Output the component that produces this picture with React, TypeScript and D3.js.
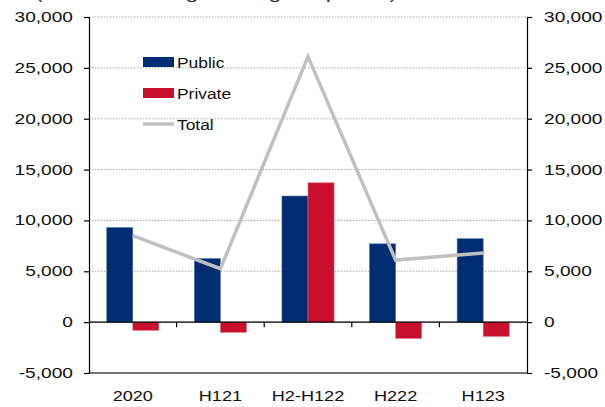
import React, { useEffect, useRef } from 'react';
import * as d3 from 'd3';

const categories = ['2020', 'H121', 'H2-H122', 'H222', 'H123'];
const publicValues = [9300, 6250, 12400, 7700, 8200];
const privateValues = [-800, -1000, 13700, -1600, -1400];
const totalValues = [8500, 5250, 26100, 6100, 6800];
const yTicks = [-5000, 0, 5000, 10000, 15000, 20000, 25000, 30000];
const title = '(absolute change during the period)';

const W = 605;
const H = 407;
const margin = { top: 17, right: 78, bottom: 34, left: 89 };
const font = '"Liberation Sans", Arial, sans-serif';

// the original is a bit stretched sideways, so texts get a horizontal scale
function stretchedText(sel: any, x: number, y: number, txt: string, sx: number, size: number, anchor: string) {
  return sel.append('text')
    .attr('transform', `translate(${x},${y}) scale(${sx},1)`)
    .attr('text-anchor', anchor)
    .attr('font-family', font).attr('font-size', size).attr('fill', '#111')
    .text(txt);
}

function App() {
  const ref = useRef(null);

  useEffect(() => {
    const svg = d3.select(ref.current);
    svg.selectAll('*').remove();
    const fmt = d3.formatLocale({ decimal: '.', thousands: ',', grouping: [3], currency: ['', ''], minus: '-' }).format(',');

    const x = d3.scaleBand().domain(categories).range([margin.left, W - margin.right]);
    const y = d3.scaleLinear().domain([-5000, 30000]).range([H - margin.bottom, margin.top]);
    const inner = d3.scaleBand().domain(['public', 'private']).range([0, x.bandwidth()]).paddingInner(0).paddingOuter(0.68);

    // title sits mostly above the picture, as in the original
    stretchedText(svg, 35, -1.5, title, 1.35, 17, 'start').attr('fill', '#333');

    // grid
    svg.append('g').selectAll('line').data(yTicks).join('line')
      .attr('x1', margin.left).attr('x2', W - margin.right)
      .attr('y1', d => y(d)).attr('y2', d => y(d))
      .attr('stroke', '#aaa').attr('stroke-width', 1).attr('stroke-dasharray', '1.5,1.5');

    // bars
    const groups = svg.append('g').selectAll('g').data(categories).join('g')
      .attr('transform', d => `translate(${x(d)},0)`);
    groups.append('rect')
      .attr('x', inner('public')).attr('width', inner.bandwidth())
      .attr('y', (d, i) => y(Math.max(0, publicValues[i])))
      .attr('height', (d, i) => Math.abs(y(publicValues[i]) - y(0)))
      .attr('fill', '#002d72').attr('stroke', '#4a7bb0').attr('stroke-width', 0.6);
    groups.append('rect')
      .attr('x', inner('private')).attr('width', inner.bandwidth())
      .attr('y', (d, i) => y(Math.max(0, privateValues[i])))
      .attr('height', (d, i) => Math.abs(y(privateValues[i]) - y(0)))
      .attr('fill', '#c8102e').attr('stroke', '#e07080').attr('stroke-width', 0.6);

    // zero line and bottom line
    svg.append('line')
      .attr('x1', margin.left).attr('x2', W - margin.right)
      .attr('y1', y(0)).attr('y2', y(0))
      .attr('stroke', '#000').attr('stroke-width', 1.2);
    svg.append('line')
      .attr('x1', margin.left).attr('x2', W - margin.right)
      .attr('y1', y(-5000)).attr('y2', y(-5000))
      .attr('stroke', '#000').attr('stroke-width', 1.2);

    // category ticks on zero line
    const catTicks = categories.slice(1).map(c => x(c));
    svg.append('g').selectAll('line').data(catTicks).join('line')
      .attr('x1', d => d).attr('x2', d => d)
      .attr('y1', y(0)).attr('y2', y(0) + 5)
      .attr('stroke', '#000').attr('stroke-width', 1.2);

    // total line
    const line = d3.line<number>()
      .x((d, i) => (x(categories[i]) as number) + x.bandwidth() / 2)
      .y(d => y(d));
    svg.append('path').datum(totalValues)
      .attr('fill', 'none').attr('stroke', '#c0c0c0').attr('stroke-width', 3.5)
      .attr('stroke-linejoin', 'miter')
      .attr('d', line);

    // axes (ticks from d3, labels drawn stretched)
    const left = svg.append('g').attr('transform', `translate(${margin.left},0)`)
      .call(d3.axisLeft(y).tickValues(yTicks).tickFormat(() => '').tickSize(5));
    const right = svg.append('g').attr('transform', `translate(${W - margin.right},0)`)
      .call(d3.axisRight(y).tickValues(yTicks).tickFormat(() => '').tickSize(5));
    [left, right].forEach(a => {
      a.select('.domain').attr('stroke', '#000').attr('stroke-width', 1.2);
      a.selectAll('.tick line').attr('stroke', '#000').attr('stroke-width', 1.2);
    });
    const labels = svg.append('g');
    yTicks.forEach(t => {
      stretchedText(labels, margin.left - 16, y(t) + 5, fmt(t), 1.32, 14.5, 'end');
      stretchedText(labels, W - margin.right + 17, y(t) + 5, fmt(t), 1.32, 14.5, 'start');
    });

    // category labels
    categories.forEach(c => {
      stretchedText(svg, (x(c) as number) + x.bandwidth() / 2, 401, c, 1.25, 14.5, 'middle');
    });

    // legend
    const legend = svg.append('g').attr('transform', 'translate(143,57)');
    const items = [
      { label: 'Public', color: '#002d72', kind: 'rect' },
      { label: 'Private', color: '#c8102e', kind: 'rect' },
      { label: 'Total', color: '#c0c0c0', kind: 'line' },
    ];
    items.forEach((it, i) => {
      const g = legend.append('g').attr('transform', `translate(0,${i * 31})`);
      if (it.kind === 'rect') {
        g.append('rect').attr('x', 0).attr('y', 0).attr('width', 31).attr('height', 10).attr('fill', it.color);
      } else {
        g.append('line').attr('x1', 0).attr('x2', 31).attr('y1', 5).attr('y2', 5)
          .attr('stroke', it.color).attr('stroke-width', 3.5);
      }
      stretchedText(g, 34, 10.5, it.label, 1.2, 14.5, 'start');
    });
  }, []);

  return (
    <svg ref={ref} width={W} height={H} style={{ position: 'absolute', left: 0, top: 0, background: '#fff' }} />
  );
}

export default App;
